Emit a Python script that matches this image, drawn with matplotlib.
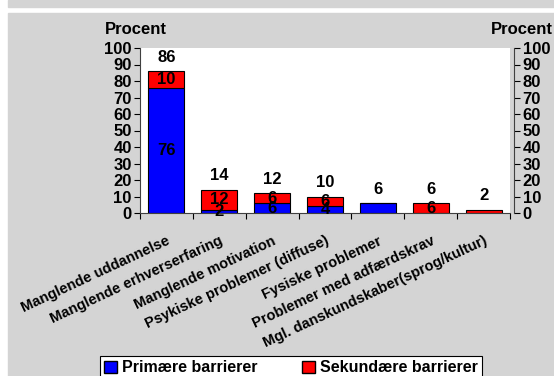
import matplotlib.pyplot as plt
import matplotlib.patches as patches
import numpy as np

# Data
categories = [
    "Manglende uddannelse",
    "Manglende erhverserfaring",
    "Manglende motivation",
    "Psykiske problemer (diffuse)",
    "Fysiske problemer",
    "Problemer med adfærdskrav",
    "Mgl. danskundskaber(sprog/kultur)",
]
primary = [76, 2, 6, 4, 6, 0, 0]
secondary = [10, 12, 6, 6, 0, 6, 2]
totals = [86, 14, 12, 10, 6, 6, 2]
# which inside labels are shown in the picture
show_primary = [True, True, True, True, False, False, False]
show_secondary = [True, True, True, True, False, True, False]

plt.rcParams["font.family"] = ["Liberation Sans", "DejaVu Sans"]
plt.rcParams["font.weight"] = "bold"

W, H = 554, 376
fig = plt.figure(figsize=(W / 100, H / 100), dpi=100, facecolor="white")

gray = "#d4d4d4"
# top strip and main panel
fig.patches.append(patches.Rectangle((8 / W, 1 - 7 / H), 1, 7 / H,
                                     transform=fig.transFigure, color=gray, zorder=-10))
fig.patches.append(patches.Rectangle((8 / W, 0), 1, 1 - 13 / H,
                                     transform=fig.transFigure, color=gray, zorder=-10))

ax = fig.add_axes([140 / W, 1 - 213 / H, (510 - 140) / W, (213 - 48) / H])
ax.set_facecolor("white")
x = np.arange(len(categories))
bw = 0.68
ax.bar(x, primary, bw, color="#0000ff", edgecolor="black", linewidth=0.8, zorder=2)
ax.bar(x, secondary, bw, bottom=primary, color="#ff0000", edgecolor="black",
       linewidth=0.8, zorder=2)

fs = 12
for i in range(len(categories)):
    if show_primary[i]:
        ax.text(x[i], primary[i] / 2, str(primary[i]), ha="center", va="center",
                fontsize=fs, fontweight="bold", zorder=3)
    if show_secondary[i]:
        ax.text(x[i], primary[i] + secondary[i] / 2, str(secondary[i]), ha="center",
                va="center", fontsize=fs, fontweight="bold", zorder=3)
    ax.text(x[i], totals[i] + 4, str(totals[i]), ha="center", va="bottom",
            fontsize=fs, fontweight="bold", zorder=3)

ax.set_xlim(-0.5, len(categories) - 0.5)
ax.set_ylim(0, 100)
ax.set_yticks(range(0, 101, 10))
ax.tick_params(axis="y", labelsize=fs, length=4, pad=2)
ax.set_xticks(np.arange(len(categories) + 1) - 0.5, minor=False)
ax.set_xticklabels([])
ax.set_xticks(x, minor=True)
ax.set_xticklabels(categories, minor=True, rotation=25, ha="right",
                   rotation_mode="anchor", fontsize=10.5, fontweight="bold")
ax.tick_params(axis="x", which="major", length=4)
ax.tick_params(axis="x", which="minor", length=0, pad=15)
for s in ["top", "right"]:
    ax.spines[s].set_visible(False)
ax.spines["left"].set_color("#404040")
ax.spines["bottom"].set_color("#404040")

ax2 = ax.twinx()
ax2.set_ylim(0, 100)
ax2.set_yticks(range(0, 101, 10))
ax2.tick_params(axis="y", labelsize=fs, length=4, pad=2)
for s in ["top", "left", "bottom"]:
    ax2.spines[s].set_visible(False)
ax2.spines["right"].set_color("#404040")
ax2.spines["right"].set_position(("outward", 3))

fig.text(136 / W, 1 - 30 / H, "Procent", ha="center", va="center",
         fontsize=fs, fontweight="bold")
fig.text(522 / W, 1 - 30 / H, "Procent", ha="center", va="center",
         fontsize=fs, fontweight="bold")

handles = [patches.Patch(facecolor="#0000ff", edgecolor="black"),
           patches.Patch(facecolor="#ff0000", edgecolor="black")]
leg = fig.legend(handles, ["Primære barrierer", "Sekundære barrierer"], ncol=2,
                 loc="center", bbox_to_anchor=(291 / W, 1 - 368 / H),
                 fontsize=11.5, frameon=True, fancybox=False, framealpha=1,
                 edgecolor="black", handlelength=0.8, handleheight=0.8,
                 handletextpad=0.3, columnspacing=2.8, borderpad=0.3)
leg.get_frame().set_linewidth(0.8)

fig.savefig("out.png", dpi=100, facecolor=fig.get_facecolor())
